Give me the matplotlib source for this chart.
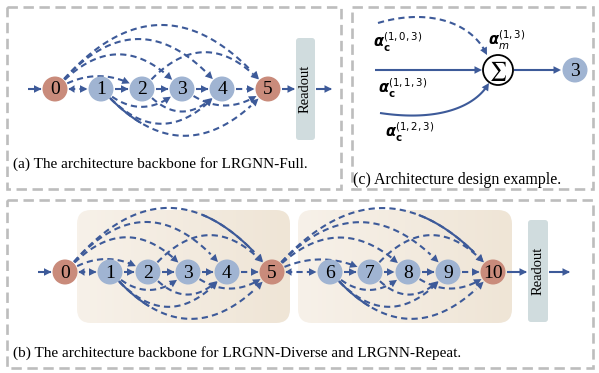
import numpy as np
import matplotlib
matplotlib.use("Agg")
import matplotlib.pyplot as plt
from matplotlib.patches import FancyBboxPatch, Rectangle, Circle, Polygon
from matplotlib.colors import LinearSegmentedColormap

plt.rcParams['lines.scale_dashes'] = False

# ---------------------------------------------------------------
# diagram content
# ---------------------------------------------------------------
a_labels = ['0', '1', '2', '3', '4', '5']
a_x = [55, 101, 142, 182, 222, 268]
a_y = 89

b_labels = ['0', '1', '2', '3', '4', '5', '6', '7', '8', '9', '10']
b_x = [65, 110, 148, 188, 227, 272, 330, 370, 408, 448, 493]
b_y = 272

# chain links between consecutive nodes of a block: solid or dashed
chain_solid = [False, True, False, True, False]

# skip connections inside a block (from, to, bulge); negative bulge = above
skips_upper = [(0, 2, -10), (0, 3, -30), (0, 4, -45), (0, 5, -59), (2, 5, -32)]
skips_lower = [(1, 3, 14), (1, 4, 30), (1, 5, 42), (2, 4, 18), (3, 5, 13)]

captions = ['(a) The architecture backbone for LRGNN-Full.',
            '(b) The architecture backbone for LRGNN-Diverse and LRGNN-Repeat.',
            '(c) Architecture design example.']

c_labels = [r'$\boldsymbol{\alpha}_{\mathbf{c}}^{(1,0,3)}$',
            r'$\boldsymbol{\alpha}_{m}^{(1,3)}$',
            r'$\boldsymbol{\alpha}_{\mathbf{c}}^{(1,1,3)}$',
            r'$\boldsymbol{\alpha}_{\mathbf{c}}^{(1,2,3)}$']

LINE = '#3d5a99'
BLUE_NODE = '#a0b4d2'
END_NODE = '#c98b7b'
READOUT = '#d0dcde'
BORDER = '#bdbdbd'
SERIF = 'Liberation Serif'
R = 12.5
DASH = (0, (4.5, 3.0))

fig = plt.figure(figsize=(5.99, 3.73), dpi=100)
ax = fig.add_axes([0, 0, 1, 1])
ax.set_xlim(0, 599)
ax.set_ylim(373, 0)
ax.axis('off')


def bezier(pts, n=80):
    pts = np.asarray(pts, float)
    t = np.linspace(0, 1, n)[:, None]
    cur = [pts[i] * np.ones_like(t) for i in range(len(pts))]
    while len(cur) > 1:
        cur = [(1 - t) * cur[i] + t * cur[i + 1] for i in range(len(cur) - 1)]
    return cur[0]


def head(tip, direction, length=7.5, width=3.8, z=5):
    d = np.asarray(direction, float)
    d = d / np.hypot(*d)
    n = np.array([-d[1], d[0]])
    tip = np.asarray(tip, float)
    base = tip - d * length
    ax.add_patch(Polygon([tip, base + n * width, base - n * width],
                         closed=True, fc=LINE, ec='none', zorder=z))


def curve(pts, dashed=True, arrow=True, lw=1.5, solid_part=None):
    xy = bezier(pts)
    ls = DASH if dashed else '-'
    # stop the stroke a bit before the tip so the head stays clean
    end = len(xy) - 4 if arrow else len(xy)
    ax.plot(xy[:end, 0], xy[:end, 1], color=LINE, lw=lw, ls=ls,
            solid_capstyle='butt', dash_capstyle='butt', zorder=3)
    if solid_part is not None:
        lo, hi = int(solid_part[0] * len(xy)), int(solid_part[1] * len(xy))
        hi = min(hi, end)
        ax.plot(xy[lo:hi, 0], xy[lo:hi, 1], color=LINE, lw=lw, zorder=3)
    if arrow:
        head(xy[-1], xy[-1] - xy[-6])


def node(x, y, label, color, fs=14):
    ax.add_patch(Circle((x, y), R, fc=color, ec='none', zorder=6))
    ax.text(x, y + 1, label, ha='center', va='center', fontsize=fs,
            family=SERIF, zorder=7)


def link(x0, x1, y, solid, both=False):
    p0 = (x0 + R + 1, y)
    p1 = (x1 - R - 1, y)
    curve([p0, p1], dashed=not solid)
    if both:
        head((x0 + R + 1, y), (-1, 0), length=6)


def arc(xs, y, i, j, bulge, solid_part=None):
    x0, x1 = xs[i], xs[j]
    ctrl = np.array([(x0 + x1) / 2, y + 2 * bulge])
    c0 = np.array([x0, y], float)
    c1 = np.array([x1, y], float)
    u0 = (ctrl - c0) / np.hypot(*(ctrl - c0))
    u1 = (ctrl - c1) / np.hypot(*(ctrl - c1))
    curve([c0 + u0 * (R + 1), ctrl, c1 + u1 * (R + 1)], solid_part=solid_part)


def block(xs, y, start, solid_bits):
    for k in range(5):
        link(xs[start + k], xs[start + k + 1], y, chain_solid[k], both=(k == 0))
    for i, j, h in skips_upper:
        arc(xs, y, start + i, start + j, h, solid_bits.get(('u', i, j)))
    for i, j, h in skips_lower:
        arc(xs, y, start + i, start + j, h, solid_bits.get(('l', i, j)))


def readout(x0, x1, y0, y1):
    ax.add_patch(FancyBboxPatch((x0, y0), x1 - x0, y1 - y0,
                                boxstyle='round,pad=0,rounding_size=3',
                                fc=READOUT, ec='none', zorder=2))
    ax.text((x0 + x1) / 2, (y0 + y1) / 2, 'Readout', rotation=90,
            ha='center', va='center', fontsize=10.5, family=SERIF, zorder=3)


def frame(x0, y0, x1, y1):
    ax.add_patch(Rectangle((x0, y0), x1 - x0, y1 - y0, fill=False,
                           ec=BORDER, lw=1.9, ls=(0, (7.5, 4.0)), zorder=1))


beige = LinearSegmentedColormap.from_list('beige', ['#f7f1e9', '#efe5d6'])


def shade(x0, x1, y0, y1):
    box = FancyBboxPatch((x0, y0), x1 - x0, y1 - y0,
                         boxstyle='round,pad=0,rounding_size=14',
                         fc='none', ec='none', zorder=0.5)
    ax.add_patch(box)
    im = ax.imshow(np.linspace(0, 1, 64)[None, :], cmap=beige, aspect='auto',
                   extent=(x0, x1, y1, y0), zorder=0.4, interpolation='bilinear')
    im.set_clip_path(box)


# ---------------------------------------------------------------
# (a) LRGNN-Full
# ---------------------------------------------------------------
frame(7, 7, 341, 189)
curve([(28, a_y), (a_x[0] - R - 1, a_y)], dashed=False)
block(a_x, a_y, 0, {('l', 1, 5): (0.0, 0.22)})
for k, (lab, x) in enumerate(zip(a_labels, a_x)):
    node(x, a_y, lab, END_NODE if k in (0, len(a_x) - 1) else BLUE_NODE)
readout(296, 315, 38, 140)
curve([(a_x[-1] + R + 1, a_y), (295, a_y)], dashed=False)
curve([(316, a_y), (332, a_y)], dashed=False)
ax.text(13, 164, captions[0], ha='left', va='center', fontsize=11, family=SERIF)

# ---------------------------------------------------------------
# (c) one aggregation step
# ---------------------------------------------------------------
frame(352, 7, 593, 189)
sx, sy, sr = 498, 70, 15
curve([(378, 23), (428, 8), (472, 22), (487, 55)], dashed=True)
curve([(375, sy), (sx - sr - 1, sy)], dashed=False)
curve([(380, 113), (440, 122), (476, 106), (489, 83)], dashed=False)
ax.add_patch(Circle((sx, sy), sr, fc='white', ec='black', lw=1.3, zorder=6))
ax.text(sx, sy + 1, r'$\sum$', ha='center', va='center', fontsize=13.5,
        math_fontfamily='stix', zorder=7)
curve([(sx + sr + 1, sy), (561, sy)], dashed=False)
node(575, sy, '3', BLUE_NODE)
ax.text(373, 42, c_labels[0], ha='left', va='center', fontsize=10.5)
ax.text(488, 40, c_labels[1], ha='left', va='center', fontsize=10.5)
ax.text(378, 88, c_labels[2], ha='left', va='center', fontsize=10.5)
ax.text(385, 132, c_labels[3], ha='left', va='center', fontsize=10.5)
ax.text(353, 180, captions[2], ha='left', va='center', fontsize=11.5, family=SERIF)

# ---------------------------------------------------------------
# (b) LRGNN-Diverse / LRGNN-Repeat
# ---------------------------------------------------------------
frame(7, 200, 593, 368)
shade(77, 290, 210, 323)
shade(298, 512, 210, 323)
curve([(38, b_y), (b_x[0] - R - 1, b_y)], dashed=False)
solid_b = {('l', 1, 5): (0.0, 0.22), ('u', 0, 5): (0.68, 1.0)}
block(b_x, b_y, 0, solid_b)
block(b_x, b_y, 5, solid_b)
for k, (lab, x) in enumerate(zip(b_labels, b_x)):
    node(x, b_y, lab, END_NODE if k % 5 == 0 else BLUE_NODE)
readout(528, 548, 220, 322)
curve([(b_x[-1] + R + 1, b_y), (527, b_y)], dashed=False)
curve([(549, b_y), (570, b_y)], dashed=False)
ax.text(13, 353, captions[1], ha='left', va='center', fontsize=11, family=SERIF)

fig.savefig('out.png', dpi=100)
